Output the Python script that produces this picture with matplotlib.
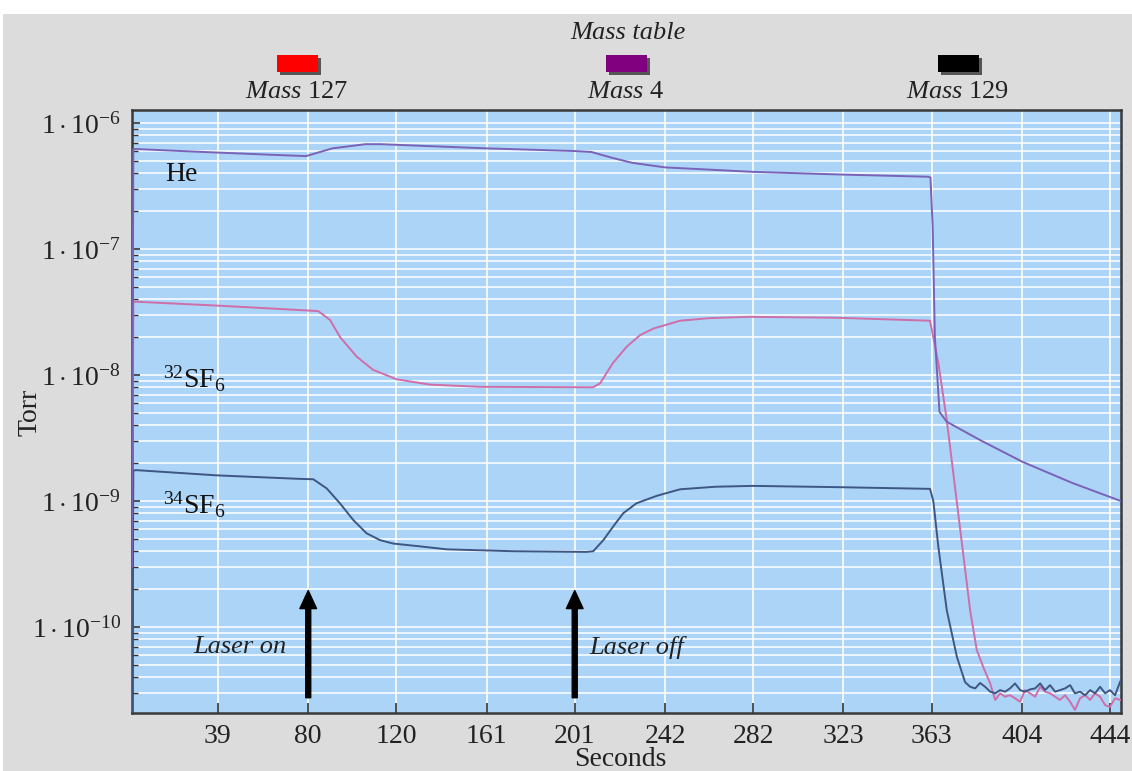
import matplotlib
matplotlib.use("Agg")
import matplotlib.pyplot as plt
from matplotlib.patches import Rectangle
from matplotlib.ticker import FixedLocator, LogLocator, NullFormatter

plt.rcParams['font.family'] = ['Liberation Serif', 'DejaVu Serif']
plt.rcParams['mathtext.fontset'] = 'custom'
plt.rcParams['mathtext.rm'] = 'Liberation Serif'
plt.rcParams['mathtext.it'] = 'Liberation Serif:italic'
plt.rcParams['mathtext.bf'] = 'Liberation Serif:bold'

# ---------------- data ----------------
x_ticks = [39, 80, 120, 161, 201, 242, 282, 323, 363, 404, 444]
y_ticks = [1e-10, 1e-9, 1e-8, 1e-7, 1e-6]
y_tick_labels = [r'$1\cdot10^{-10}$', r'$1\cdot10^{-9}$', r'$1\cdot10^{-8}$',
                 r'$1\cdot10^{-7}$', r'$1\cdot10^{-6}$']

legend_names = ['127', '4', '129']
legend_colors = ['#ff0000', '#800080', '#000000']

he_t = [0, 0.6, 2, 32, 67, 79, 91, 106, 113, 122, 161, 201, 208.5, 218, 227, 242,
        282, 323, 361.5, 362.5, 363.5, 364.5, 366.6, 369.9, 385, 404.5, 427, 449]
he_v = [3e-10, 6.2e-7, 6.22e-7, 5.9e-7, 5.57e-7, 5.47e-7, 6.3e-7, 6.8e-7, 6.8e-7, 6.7e-7,
        6.3e-7, 6.0e-7, 5.9e-7, 5.3e-7, 4.84e-7, 4.45e-7, 4.1e-7, 3.9e-7, 3.75e-7,
        3.7e-7, 1.5e-7, 2e-8, 5.1e-9, 4.26e-9, 3.05e-9, 2.04e-9, 1.39e-9, 1.0e-9]

sf32_t = [0, 0.6, 2, 40, 79, 84.5, 89.9, 94.4, 102, 109.5, 120.2, 135.3, 158, 209.3,
          212.5, 218.4, 224.6, 230.6, 236.7, 248.8, 262, 280, 320, 362.3, 366.1, 369.9,
          380.5, 383.5, 386.5, 389.6,
          391.9, 394.1, 396.4, 398.6, 400.9, 403.2, 405.4, 407.7, 410.0, 412.3, 414.5,
          416.8, 419.1, 421.3, 423.6, 425.9, 428.1, 430.4, 432.7, 435.0, 437.2, 439.5,
          441.8, 444.0, 446.3, 448.6]
sf32_v = [3e-10, 3.8e-8, 3.82e-8, 3.55e-8, 3.26e-8, 3.22e-8, 2.74e-8, 2.01e-8, 1.4e-8,
          1.1e-8, 9.25e-9, 8.4e-9, 8.07e-9, 8.0e-9, 8.6e-9, 1.25e-8, 1.68e-8, 2.07e-8,
          2.34e-8, 2.7e-8, 2.83e-8, 2.9e-8, 2.85e-8, 2.7e-8, 1.24e-8, 4.4e-9,
          1.36e-10, 6.6e-11, 4.8e-11, 3.57e-11,
          2.64e-11, 2.98e-11, 2.8e-11, 2.88e-11, 2.72e-11, 2.55e-11, 3.16e-11, 2.98e-11,
          2.8e-11, 3.36e-11, 3.07e-11, 2.98e-11, 2.8e-11, 2.64e-11, 2.88e-11, 2.55e-11,
          2.2e-11, 2.72e-11, 2.88e-11, 2.64e-11, 2.98e-11, 2.8e-11, 2.4e-11, 2.33e-11,
          2.72e-11, 2.64e-11]

sf34_t = [0, 0.6, 2, 38.4, 76.3, 82.3, 88.4, 94.4, 100.5, 106.5, 112.6, 118.6, 130.8,
          142.9, 173, 206.4, 209.4, 214, 218.5, 223, 229, 238.2, 248.8, 265, 282, 320,
          362.3, 363.8, 366.1, 369.9, 374.5, 378.2,
          380.5, 382.8, 385.0, 387.3, 389.6, 391.9, 394.1, 396.4, 398.6, 400.9, 403.2,
          405.4, 407.7, 410.0, 412.3, 414.5, 416.8, 419.1, 421.3, 423.6, 425.9, 428.1,
          430.4, 432.7, 435.0, 437.2, 439.5, 441.8, 444.0, 446.3, 448.6]
sf34_v = [2e-11, 1.75e-9, 1.76e-9, 1.6e-9, 1.5e-9, 1.49e-9, 1.26e-9, 9.6e-10, 7.06e-10,
          5.55e-10, 4.9e-10, 4.6e-10, 4.37e-10, 4.14e-10, 4.0e-10, 3.95e-10, 4.0e-10,
          4.9e-10, 6.3e-10, 8.0e-10, 9.6e-10, 1.1e-9, 1.24e-9, 1.3e-9, 1.32e-9, 1.29e-9,
          1.25e-9, 1.0e-9, 4.3e-10, 1.36e-10, 5.8e-11, 3.66e-11,
          3.36e-11, 3.26e-11, 3.6e-11, 3.36e-11, 3.07e-11, 2.98e-11, 3.16e-11, 3.07e-11,
          3.26e-11, 3.57e-11, 3.16e-11, 3.07e-11, 3.2e-11, 3.26e-11, 3.57e-11, 3.16e-11,
          3.46e-11, 3.07e-11, 3.16e-11, 3.26e-11, 3.46e-11, 2.98e-11, 3.07e-11, 2.88e-11,
          3.16e-11, 2.98e-11, 3.36e-11, 2.98e-11, 3.16e-11, 2.88e-11, 3.68e-11]

laser_on_t = 80
laser_off_t = 201

# ---------------- figure ----------------
W, H = 1132, 771
fig = plt.figure(figsize=(W / 100, H / 100), dpi=100, facecolor='white')
fig.patches.append(Rectangle((3 / W, 0), 1 - 3 / W, 1 - 14 / H, transform=fig.transFigure,
                             facecolor='#dcdcdc', edgecolor='none', zorder=-10))

ax = fig.add_axes([132 / W, 1 - 713 / H, (1121 - 132) / W, (713 - 110) / H])
ax.set_facecolor('#abd4f7')
ax.set_yscale('log')
ax.set_xlim(0, 449)
ax.set_ylim(2.08e-11, 1.27e-6)

ax.xaxis.set_major_locator(FixedLocator(x_ticks))
ax.set_xticklabels([str(v) for v in x_ticks])
ax.yaxis.set_major_locator(FixedLocator(y_ticks))
ax.set_yticklabels(y_tick_labels)
ax.yaxis.set_minor_locator(LogLocator(base=10, subs=range(2, 10), numticks=20))
ax.yaxis.set_minor_formatter(NullFormatter())

ax.grid(which='major', axis='x', color='white', lw=1.3, alpha=0.9)
ax.grid(which='both', axis='y', color='white', lw=1.3, alpha=0.85)
ax.set_axisbelow(True)

ax.tick_params(axis='x', which='major', direction='in', length=7, width=1.2, color='#333333',
               labelsize=20, pad=8, top=False, labelcolor='#222222')
ax.tick_params(axis='y', which='major', direction='in', length=6, width=1.2, color='#333333',
               labelsize=20, pad=8, right=False, labelcolor='#222222')
ax.tick_params(axis='y', which='minor', direction='in', length=4, width=1.0, color='#333333',
               right=False)
for s in ax.spines.values():
    s.set_color('#3a3a3a')
    s.set_linewidth(1.8)

ax.plot(sf32_t, sf32_v, color='#cf6ea8', lw=1.4, zorder=3)
ax.plot(sf34_t, sf34_v, color='#3e5684', lw=1.4, zorder=4)
ax.plot(he_t, he_v, color='#7a62b8', lw=1.4, zorder=5)

# labels inside
ax.text(15, 3.9e-7, 'He', fontsize=20, ha='left', va='center', color='#111111')
ax.text(14, 9.3e-9, r'$^{32}\mathrm{SF}_6$', fontsize=20, ha='left', va='center', color='#111111')
ax.text(14, 9.3e-10, r'$^{34}\mathrm{SF}_6$', fontsize=20, ha='left', va='center', color='#111111')

for t in (laser_on_t, laser_off_t):
    ax.annotate('', xy=(t, 1.95e-10), xytext=(t, 2.75e-11),
                arrowprops=dict(facecolor='black', edgecolor='black', width=3.6,
                                headwidth=12, headlength=13, shrink=0), zorder=6)
ax.text(49, 6.9e-11, 'Laser on', fontsize=19, style='italic', ha='center', va='center',
        color='#222222')
ax.text(229, 6.9e-11, 'Laser off', fontsize=19, style='italic', ha='center', va='center',
        color='#222222')

fig.text(30 / W, 1 - 412 / H, 'Torr', rotation=90, fontsize=20, ha='center', va='center',
         color='#222222')
fig.text(620 / W, 1 - 760 / H, 'Seconds', fontsize=20, ha='center', va='center',
         color='#222222')

# mass table legend
fig.text(628 / W, 1 - 33 / H, 'Mass table', fontsize=19, style='italic', ha='center',
         va='center', color='#222222')
centers = [297, 626, 958]
for cx, name, col in zip(centers, legend_names, legend_colors):
    w, h = 41, 17
    fig.patches.append(Rectangle(((cx - w / 2 + 3) / W, 1 - (72 + 3) / H), w / W, h / H,
                                 transform=fig.transFigure, facecolor='#555555',
                                 edgecolor='none', zorder=1))
    fig.patches.append(Rectangle(((cx - w / 2) / W, 1 - 72 / H), w / W, h / H,
                                 transform=fig.transFigure, facecolor=col,
                                 edgecolor='none', zorder=2))
    fig.text(cx / W, 1 - 92 / H, r'$\mathit{Mass}$ ' + name, fontsize=19, ha='center',
             va='center', color='#222222')

fig.savefig('out.png', dpi=100, facecolor=fig.get_facecolor())
